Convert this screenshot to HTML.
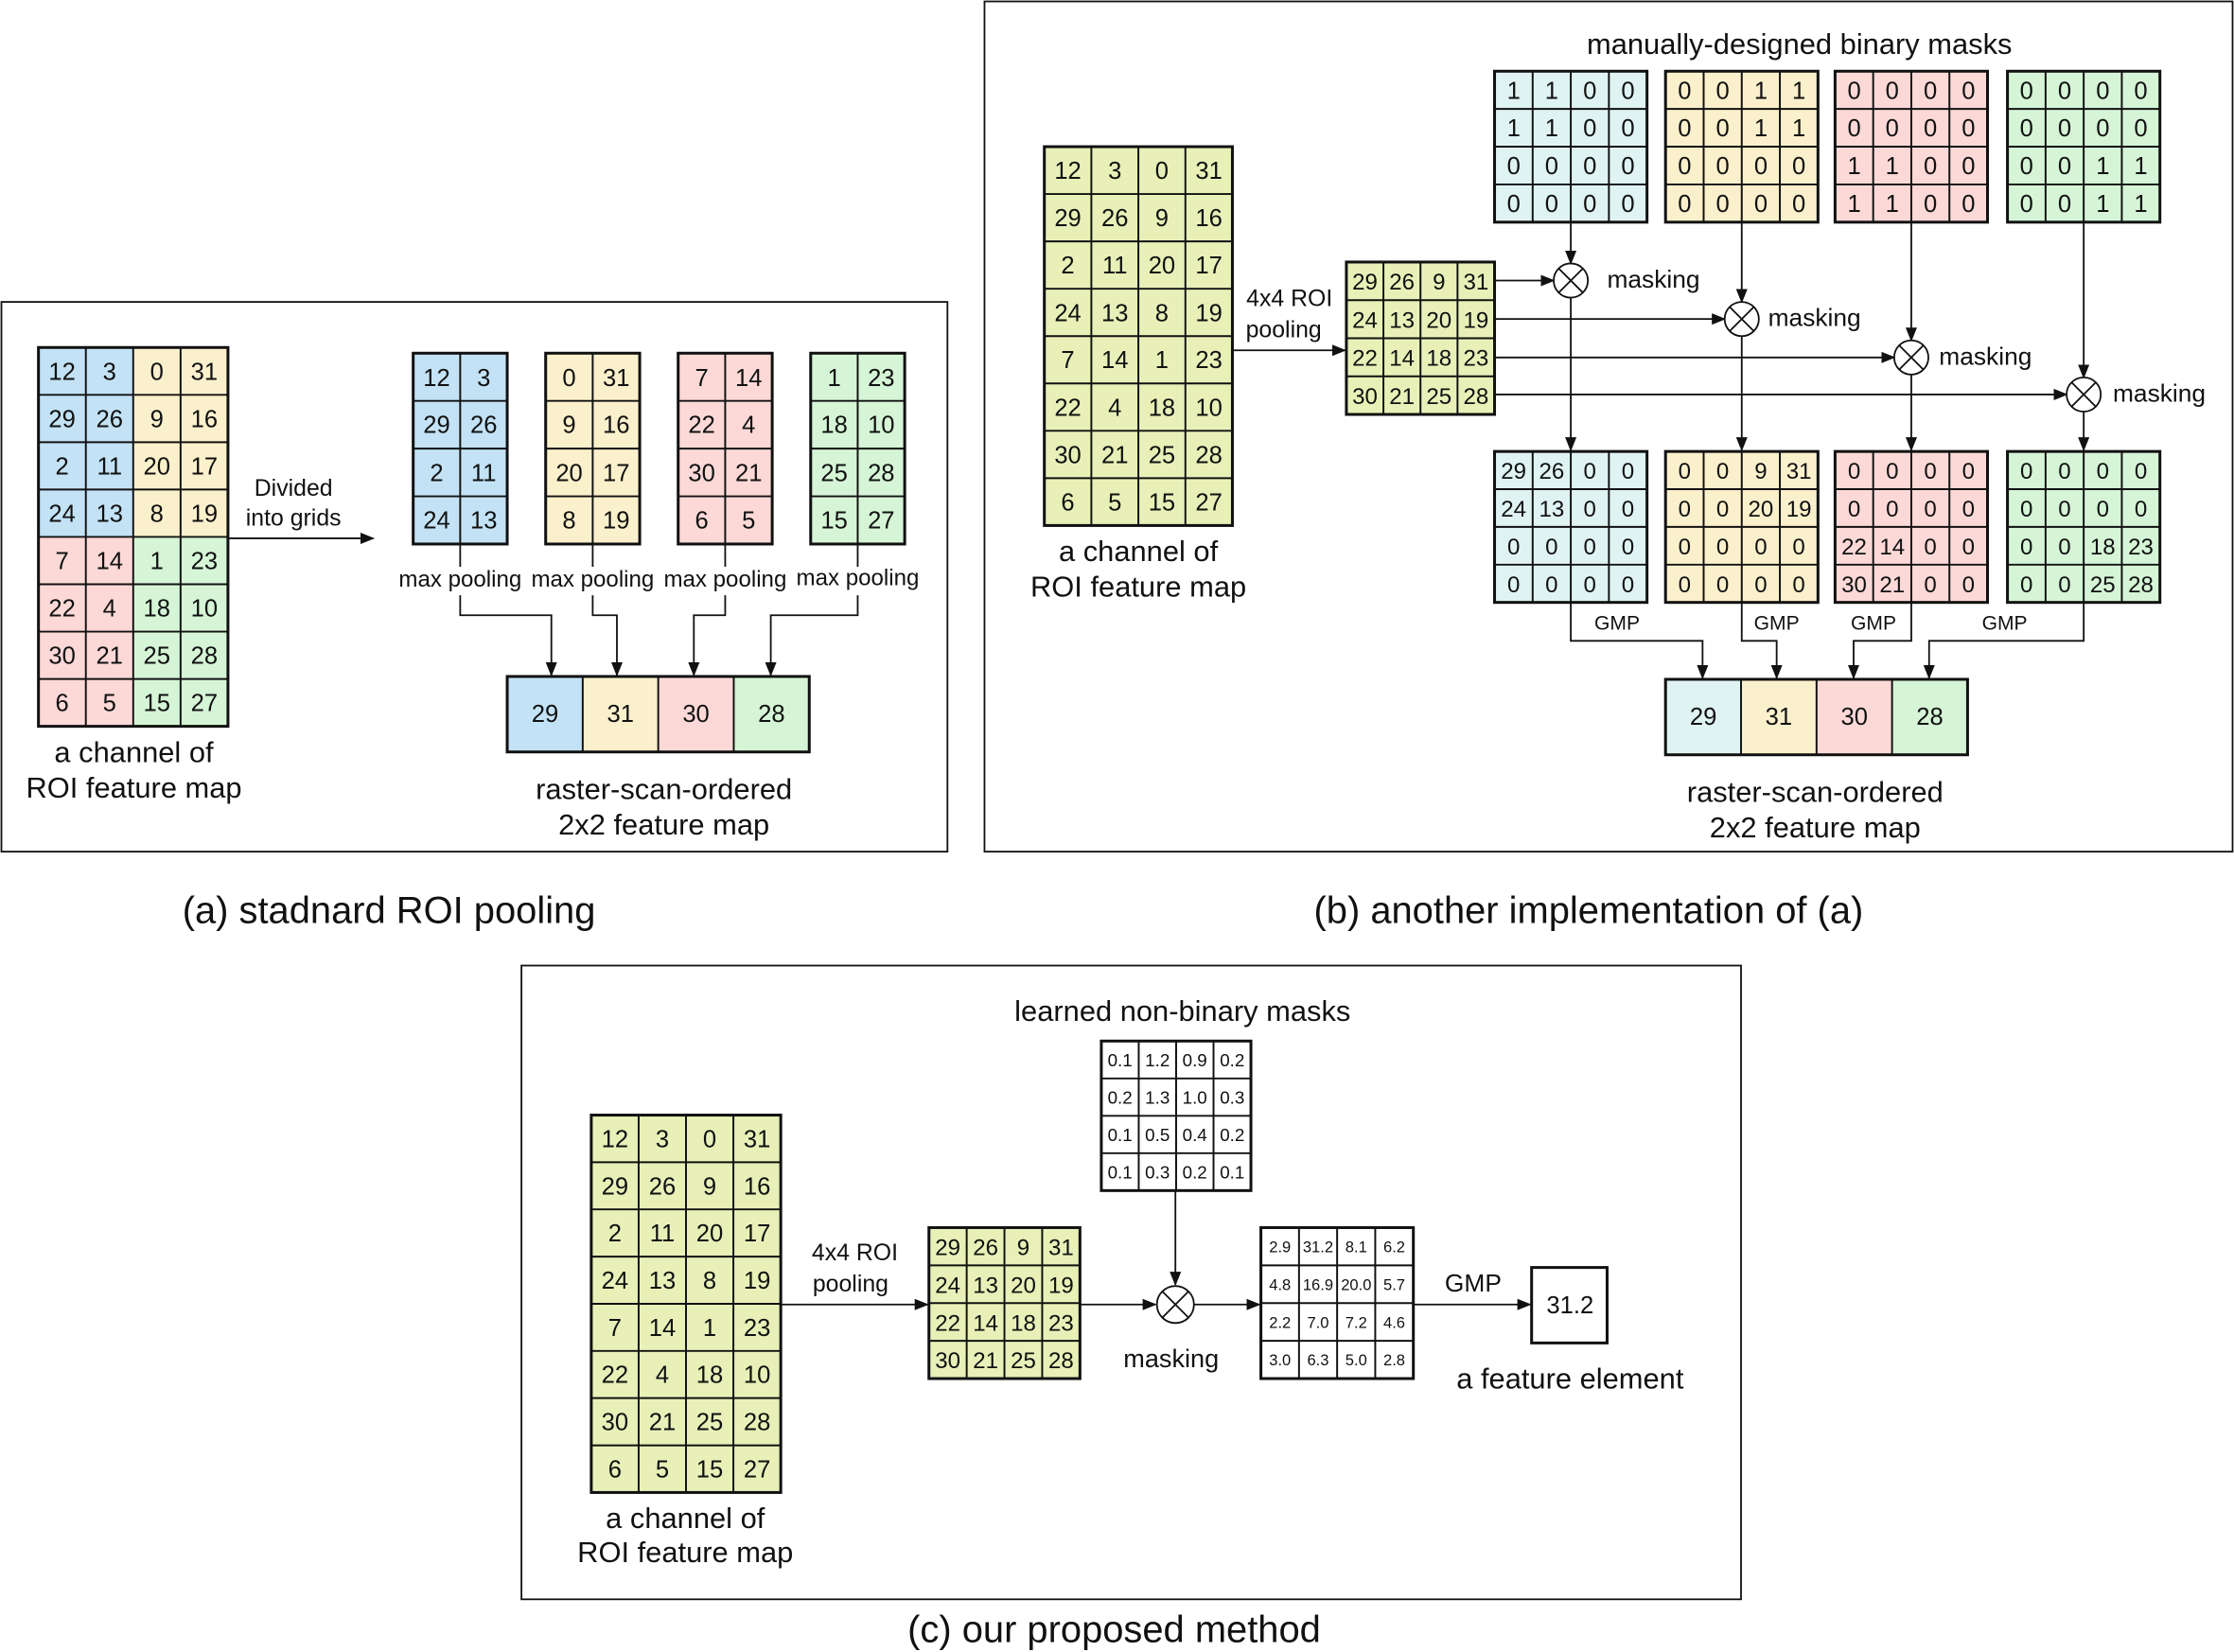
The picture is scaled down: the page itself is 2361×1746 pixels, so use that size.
<!DOCTYPE html>
<html><head><meta charset="utf-8"><style>
html,body{margin:0;padding:0;background:#fff}
svg{display:block}
text{font-family:"Liberation Sans",Arial,sans-serif;fill:#111}
.n{font-size:17px;text-anchor:middle}
.m{font-size:16px;text-anchor:middle}
.s{font-size:12.5px;text-anchor:middle}
.xs{font-size:11px;text-anchor:middle}
.l{font-size:20.5px;text-anchor:middle}
.t{font-size:16.5px;text-anchor:middle}
.cap{font-size:26.5px;text-anchor:middle}
.g{fill:none;stroke:#111;stroke-width:2}
.w{stroke:#111;stroke-width:1.3;fill:none}
.c{stroke:#111;stroke-width:1.2;fill:none}
</style></head><body>
<svg width="2361" height="1746" viewBox="0 0 1568 1160" preserveAspectRatio="none" xmlns="http://www.w3.org/2000/svg">
<defs><marker id="a" markerWidth="10" markerHeight="8" refX="9" refY="4" orient="auto" markerUnits="userSpaceOnUse"><path d="M0,0 L10,4 L0,8 z" fill="#111"/></marker></defs>

<!-- ===== Panel (a) ===== -->
<rect x="1" y="212" width="664" height="386" class="c"/>
<rect x="27" y="244" width="66.5" height="133" fill="#c3e2f5"/>
<rect x="93.5" y="244" width="66.5" height="133" fill="#fbf0cc"/>
<rect x="27" y="377" width="66.5" height="133" fill="#fcd9d7"/>
<rect x="93.5" y="377" width="66.5" height="133" fill="#d5f5d6"/>
<path class="w" d="M60.25 244V510M93.5 244V510M126.75 244V510M27 277.25H160M27 310.5H160M27 343.75H160M27 377H160M27 410.25H160M27 443.5H160M27 476.75H160"/>
<rect x="27" y="244" width="133" height="266" class="g"/>
<text class="n" y="266.6"><tspan x="43.6">12</tspan><tspan x="76.9">3</tspan><tspan x="110.1">0</tspan><tspan x="143.4">31</tspan></text>
<text class="n" y="299.9"><tspan x="43.6">29</tspan><tspan x="76.9">26</tspan><tspan x="110.1">9</tspan><tspan x="143.4">16</tspan></text>
<text class="n" y="333.1"><tspan x="43.6">2</tspan><tspan x="76.9">11</tspan><tspan x="110.1">20</tspan><tspan x="143.4">17</tspan></text>
<text class="n" y="366.4"><tspan x="43.6">24</tspan><tspan x="76.9">13</tspan><tspan x="110.1">8</tspan><tspan x="143.4">19</tspan></text>
<text class="n" y="399.6"><tspan x="43.6">7</tspan><tspan x="76.9">14</tspan><tspan x="110.1">1</tspan><tspan x="143.4">23</tspan></text>
<text class="n" y="432.9"><tspan x="43.6">22</tspan><tspan x="76.9">4</tspan><tspan x="110.1">18</tspan><tspan x="143.4">10</tspan></text>
<text class="n" y="466.1"><tspan x="43.6">30</tspan><tspan x="76.9">21</tspan><tspan x="110.1">25</tspan><tspan x="143.4">28</tspan></text>
<text class="n" y="499.4"><tspan x="43.6">6</tspan><tspan x="76.9">5</tspan><tspan x="110.1">15</tspan><tspan x="143.4">27</tspan></text>
<text class="l" x="94" y="535">a channel of</text>
<text class="l" x="94" y="560">ROI feature map</text>
<line x1="160" y1="378" x2="262" y2="378" class="c" stroke-width="1.6" marker-end="url(#a)"/>
<text class="t" x="206" y="348">Divided</text>
<text class="t" x="206" y="369">into grids</text>

<!-- small grids -->
<rect x="290" y="248" width="66" height="134" fill="#c3e2f5"/>
<rect x="383" y="248" width="66" height="134" fill="#fbf0cc"/>
<rect x="476" y="248" width="66" height="134" fill="#fcd9d7"/>
<rect x="569" y="248" width="66" height="134" fill="#d5f5d6"/>
<path class="w" d="M323 248V382M290 281.5H356M290 315H356M290 348.5H356M416 248V382M383 281.5H449M383 315H449M383 348.5H449M509 248V382M476 281.5H542M476 315H542M476 348.5H542M602 248V382M569 281.5H635M569 315H635M569 348.5H635"/>
<rect x="290" y="248" width="66" height="134" class="g"/>
<rect x="383" y="248" width="66" height="134" class="g"/>
<rect x="476" y="248" width="66" height="134" class="g"/>
<rect x="569" y="248" width="66" height="134" class="g"/>
<text class="n" y="271"><tspan x="306.5">12</tspan><tspan x="339.5">3</tspan><tspan x="399.5">0</tspan><tspan x="432.5">31</tspan><tspan x="492.5">7</tspan><tspan x="525.5">14</tspan><tspan x="585.5">1</tspan><tspan x="618.5">23</tspan></text>
<text class="n" y="304"><tspan x="306.5">29</tspan><tspan x="339.5">26</tspan><tspan x="399.5">9</tspan><tspan x="432.5">16</tspan><tspan x="492.5">22</tspan><tspan x="525.5">4</tspan><tspan x="585.5">18</tspan><tspan x="618.5">10</tspan></text>
<text class="n" y="338"><tspan x="306.5">2</tspan><tspan x="339.5">11</tspan><tspan x="399.5">20</tspan><tspan x="432.5">17</tspan><tspan x="492.5">30</tspan><tspan x="525.5">21</tspan><tspan x="585.5">25</tspan><tspan x="618.5">28</tspan></text>
<text class="n" y="371"><tspan x="306.5">24</tspan><tspan x="339.5">13</tspan><tspan x="399.5">8</tspan><tspan x="432.5">19</tspan><tspan x="492.5">6</tspan><tspan x="525.5">5</tspan><tspan x="585.5">15</tspan><tspan x="618.5">27</tspan></text>
<path class="c" d="M323 382V398M416 382V398M509 382V398M602 382V398"/>
<text class="t" x="323" y="412" style="font-size:16px">max pooling</text>
<text class="t" x="416" y="412" style="font-size:16px">max pooling</text>
<text class="t" x="509" y="412" style="font-size:16px">max pooling</text>
<text class="t" x="602" y="411" style="font-size:16px">max pooling</text>
<path class="c" d="M323 418V432H387V474" marker-end="url(#a)"/>
<path class="c" d="M416 418V432H433V474" marker-end="url(#a)"/>
<path class="c" d="M509 418V432H487V474" marker-end="url(#a)"/>
<path class="c" d="M602 418V432H541V474" marker-end="url(#a)"/>
<rect x="356" y="475" width="53" height="53" fill="#c3e2f5"/>
<rect x="409" y="475" width="53" height="53" fill="#fbf0cc"/>
<rect x="462" y="475" width="53" height="53" fill="#fcd9d7"/>
<rect x="515" y="475" width="53" height="53" fill="#d5f5d6"/>
<path class="w" d="M409 475V528M462 475V528M515 475V528"/>
<rect x="356" y="475" width="212" height="53" class="g"/>
<text class="n" y="507"><tspan x="382.5">29</tspan><tspan x="435.5">31</tspan><tspan x="488.5">30</tspan><tspan x="541.5">28</tspan></text>
<text class="l" x="466" y="561">raster-scan-ordered</text>
<text class="l" x="466" y="586">2x2 feature map</text>
<text class="cap" x="273" y="648">(a) stadnard ROI pooling</text>

<!-- ===== Panel (b) ===== -->
<rect x="691" y="1" width="876" height="597" class="c"/>
<rect x="733" y="103" width="132" height="266" fill="#e8f0b8"/>
<path class="w" d="M766 103V369M799 103V369M832 103V369M733 136.25H865M733 169.5H865M733 202.75H865M733 236H865M733 269.25H865M733 302.5H865M733 335.75H865"/>
<rect x="733" y="103" width="132" height="266" class="g"/>
<text class="n" y="125.6"><tspan x="749.5">12</tspan><tspan x="782.5">3</tspan><tspan x="815.5">0</tspan><tspan x="848.5">31</tspan></text>
<text class="n" y="158.9"><tspan x="749.5">29</tspan><tspan x="782.5">26</tspan><tspan x="815.5">9</tspan><tspan x="848.5">16</tspan></text>
<text class="n" y="192.1"><tspan x="749.5">2</tspan><tspan x="782.5">11</tspan><tspan x="815.5">20</tspan><tspan x="848.5">17</tspan></text>
<text class="n" y="225.4"><tspan x="749.5">24</tspan><tspan x="782.5">13</tspan><tspan x="815.5">8</tspan><tspan x="848.5">19</tspan></text>
<text class="n" y="258.6"><tspan x="749.5">7</tspan><tspan x="782.5">14</tspan><tspan x="815.5">1</tspan><tspan x="848.5">23</tspan></text>
<text class="n" y="291.9"><tspan x="749.5">22</tspan><tspan x="782.5">4</tspan><tspan x="815.5">18</tspan><tspan x="848.5">10</tspan></text>
<text class="n" y="325.1"><tspan x="749.5">30</tspan><tspan x="782.5">21</tspan><tspan x="815.5">25</tspan><tspan x="848.5">28</tspan></text>
<text class="n" y="358.4"><tspan x="749.5">6</tspan><tspan x="782.5">5</tspan><tspan x="815.5">15</tspan><tspan x="848.5">27</tspan></text>
<text class="l" x="799" y="394">a channel of</text>
<text class="l" x="799" y="419">ROI feature map</text>
<line x1="865" y1="246" x2="944" y2="246" class="c" stroke-width="1.6" marker-end="url(#a)"/>
<text class="t" x="905" y="215">4x4 ROI</text>
<text class="t" x="901" y="237">pooling</text>

<rect x="945" y="184" width="104" height="107" fill="#e8f0b8"/>
<path class="w" d="M971 184V291M997 184V291M1023 184V291M945 210.75H1049M945 237.5H1049M945 264.25H1049"/>
<rect x="945" y="184" width="104" height="107" class="g"/>
<text class="m" y="203.4"><tspan x="958">29</tspan><tspan x="984">26</tspan><tspan x="1010">9</tspan><tspan x="1036">31</tspan></text>
<text class="m" y="230.1"><tspan x="958">24</tspan><tspan x="984">13</tspan><tspan x="1010">20</tspan><tspan x="1036">19</tspan></text>
<text class="m" y="256.9"><tspan x="958">22</tspan><tspan x="984">14</tspan><tspan x="1010">18</tspan><tspan x="1036">23</tspan></text>
<text class="m" y="283.6"><tspan x="958">30</tspan><tspan x="984">21</tspan><tspan x="1010">25</tspan><tspan x="1036">28</tspan></text>

<text class="l" x="1263" y="38">manually-designed binary masks</text>

<rect x="1049" y="50" width="107" height="106" fill="#dff3f3"/>
<rect x="1169" y="50" width="107" height="106" fill="#fbf0cc"/>
<rect x="1288" y="50" width="107" height="106" fill="#fcd9d7"/>
<rect x="1409" y="50" width="107" height="106" fill="#d5f5d6"/>
<rect x="1049" y="317" width="107" height="106" fill="#dff3f3"/>
<rect x="1169" y="317" width="107" height="106" fill="#fbf0cc"/>
<rect x="1288" y="317" width="107" height="106" fill="#fcd9d7"/>
<rect x="1409" y="317" width="107" height="106" fill="#d5f5d6"/>
<path class="w" d="M1075.75 50V156M1102.5 50V156M1129.25 50V156M1049 76.5H1156M1049 103H1156M1049 129.5H1156
M1195.75 50V156M1222.5 50V156M1249.25 50V156M1169 76.5H1276M1169 103H1276M1169 129.5H1276
M1314.75 50V156M1341.5 50V156M1368.25 50V156M1288 76.5H1395M1288 103H1395M1288 129.5H1395
M1435.75 50V156M1462.5 50V156M1489.25 50V156M1409 76.5H1516M1409 103H1516M1409 129.5H1516
M1075.75 317V423M1102.5 317V423M1129.25 317V423M1049 343.5H1156M1049 370H1156M1049 396.5H1156
M1195.75 317V423M1222.5 317V423M1249.25 317V423M1169 343.5H1276M1169 370H1276M1169 396.5H1276
M1314.75 317V423M1341.5 317V423M1368.25 317V423M1288 343.5H1395M1288 370H1395M1288 396.5H1395
M1435.75 317V423M1462.5 317V423M1489.25 317V423M1409 343.5H1516M1409 370H1516M1409 396.5H1516"/>
<rect x="1049" y="50" width="107" height="106" class="g"/>
<rect x="1169" y="50" width="107" height="106" class="g"/>
<rect x="1288" y="50" width="107" height="106" class="g"/>
<rect x="1409" y="50" width="107" height="106" class="g"/>
<rect x="1049" y="317" width="107" height="106" class="g"/>
<rect x="1169" y="317" width="107" height="106" class="g"/>
<rect x="1288" y="317" width="107" height="106" class="g"/>
<rect x="1409" y="317" width="107" height="106" class="g"/>

<text class="n" y="69.3"><tspan x="1062.4">1</tspan><tspan x="1089.1">1</tspan><tspan x="1115.9">0</tspan><tspan x="1142.6">0</tspan><tspan x="1182.4">0</tspan><tspan x="1209.1">0</tspan><tspan x="1235.9">1</tspan><tspan x="1262.6">1</tspan><tspan x="1301.4">0</tspan><tspan x="1328.1">0</tspan><tspan x="1354.9">0</tspan><tspan x="1381.6">0</tspan><tspan x="1422.4">0</tspan><tspan x="1449.1">0</tspan><tspan x="1475.9">0</tspan><tspan x="1502.6">0</tspan></text>
<text class="n" y="95.8"><tspan x="1062.4">1</tspan><tspan x="1089.1">1</tspan><tspan x="1115.9">0</tspan><tspan x="1142.6">0</tspan><tspan x="1182.4">0</tspan><tspan x="1209.1">0</tspan><tspan x="1235.9">1</tspan><tspan x="1262.6">1</tspan><tspan x="1301.4">0</tspan><tspan x="1328.1">0</tspan><tspan x="1354.9">0</tspan><tspan x="1381.6">0</tspan><tspan x="1422.4">0</tspan><tspan x="1449.1">0</tspan><tspan x="1475.9">0</tspan><tspan x="1502.6">0</tspan></text>
<text class="n" y="122.3"><tspan x="1062.4">0</tspan><tspan x="1089.1">0</tspan><tspan x="1115.9">0</tspan><tspan x="1142.6">0</tspan><tspan x="1182.4">0</tspan><tspan x="1209.1">0</tspan><tspan x="1235.9">0</tspan><tspan x="1262.6">0</tspan><tspan x="1301.4">1</tspan><tspan x="1328.1">1</tspan><tspan x="1354.9">0</tspan><tspan x="1381.6">0</tspan><tspan x="1422.4">0</tspan><tspan x="1449.1">0</tspan><tspan x="1475.9">1</tspan><tspan x="1502.6">1</tspan></text>
<text class="n" y="148.8"><tspan x="1062.4">0</tspan><tspan x="1089.1">0</tspan><tspan x="1115.9">0</tspan><tspan x="1142.6">0</tspan><tspan x="1182.4">0</tspan><tspan x="1209.1">0</tspan><tspan x="1235.9">0</tspan><tspan x="1262.6">0</tspan><tspan x="1301.4">1</tspan><tspan x="1328.1">1</tspan><tspan x="1354.9">0</tspan><tspan x="1381.6">0</tspan><tspan x="1422.4">0</tspan><tspan x="1449.1">0</tspan><tspan x="1475.9">1</tspan><tspan x="1502.6">1</tspan></text>

<text class="m" y="336.3"><tspan x="1062.4">29</tspan><tspan x="1089.1">26</tspan><tspan x="1115.9">0</tspan><tspan x="1142.6">0</tspan><tspan x="1182.4">0</tspan><tspan x="1209.1">0</tspan><tspan x="1235.9">9</tspan><tspan x="1262.6">31</tspan><tspan x="1301.4">0</tspan><tspan x="1328.1">0</tspan><tspan x="1354.9">0</tspan><tspan x="1381.6">0</tspan><tspan x="1422.4">0</tspan><tspan x="1449.1">0</tspan><tspan x="1475.9">0</tspan><tspan x="1502.6">0</tspan></text>
<text class="m" y="362.8"><tspan x="1062.4">24</tspan><tspan x="1089.1">13</tspan><tspan x="1115.9">0</tspan><tspan x="1142.6">0</tspan><tspan x="1182.4">0</tspan><tspan x="1209.1">0</tspan><tspan x="1235.9">20</tspan><tspan x="1262.6">19</tspan><tspan x="1301.4">0</tspan><tspan x="1328.1">0</tspan><tspan x="1354.9">0</tspan><tspan x="1381.6">0</tspan><tspan x="1422.4">0</tspan><tspan x="1449.1">0</tspan><tspan x="1475.9">0</tspan><tspan x="1502.6">0</tspan></text>
<text class="m" y="389.3"><tspan x="1062.4">0</tspan><tspan x="1089.1">0</tspan><tspan x="1115.9">0</tspan><tspan x="1142.6">0</tspan><tspan x="1182.4">0</tspan><tspan x="1209.1">0</tspan><tspan x="1235.9">0</tspan><tspan x="1262.6">0</tspan><tspan x="1301.4">22</tspan><tspan x="1328.1">14</tspan><tspan x="1354.9">0</tspan><tspan x="1381.6">0</tspan><tspan x="1422.4">0</tspan><tspan x="1449.1">0</tspan><tspan x="1475.9">18</tspan><tspan x="1502.6">23</tspan></text>
<text class="m" y="415.8"><tspan x="1062.4">0</tspan><tspan x="1089.1">0</tspan><tspan x="1115.9">0</tspan><tspan x="1142.6">0</tspan><tspan x="1182.4">0</tspan><tspan x="1209.1">0</tspan><tspan x="1235.9">0</tspan><tspan x="1262.6">0</tspan><tspan x="1301.4">30</tspan><tspan x="1328.1">21</tspan><tspan x="1354.9">0</tspan><tspan x="1381.6">0</tspan><tspan x="1422.4">0</tspan><tspan x="1449.1">0</tspan><tspan x="1475.9">25</tspan><tspan x="1502.6">28</tspan></text>

<line x1="1102.5" y1="156" x2="1102.5" y2="185" class="c" marker-end="url(#a)"/>
<line x1="1222.5" y1="156" x2="1222.5" y2="212" class="c" marker-end="url(#a)"/>
<line x1="1341.5" y1="156" x2="1341.5" y2="239" class="c" marker-end="url(#a)"/>
<line x1="1462.5" y1="156" x2="1462.5" y2="265" class="c" marker-end="url(#a)"/>
<line x1="1049" y1="197" x2="1090.5" y2="197" class="c" stroke-width="1.6" marker-end="url(#a)"/>
<line x1="1049" y1="224" x2="1210.5" y2="224" class="c" stroke-width="1.6" marker-end="url(#a)"/>
<line x1="1049" y1="251" x2="1329.5" y2="251" class="c" stroke-width="1.6" marker-end="url(#a)"/>
<line x1="1049" y1="277" x2="1450.5" y2="277" class="c" stroke-width="1.6" marker-end="url(#a)"/>
<line x1="1102.5" y1="209" x2="1102.5" y2="316" class="c" marker-end="url(#a)"/>
<line x1="1222.5" y1="236" x2="1222.5" y2="316" class="c" marker-end="url(#a)"/>
<line x1="1341.5" y1="263" x2="1341.5" y2="316" class="c" marker-end="url(#a)"/>
<line x1="1462.5" y1="289" x2="1462.5" y2="316" class="c" marker-end="url(#a)"/>
<g class="c" stroke-width="1.6" fill="#fff">
<circle cx="1102.5" cy="197" r="12" fill="#fff"/><path d="M1094 188.5L1111 205.5M1111 188.5L1094 205.5"/>
<circle cx="1222.5" cy="224" r="12" fill="#fff"/><path d="M1214 215.5L1231 232.5M1231 215.5L1214 232.5"/>
<circle cx="1341.5" cy="251" r="12" fill="#fff"/><path d="M1333 242.5L1350 259.5M1350 242.5L1333 259.5"/>
<circle cx="1462.5" cy="277" r="12" fill="#fff"/><path d="M1454 268.5L1471 285.5M1471 268.5L1454 285.5"/>
</g>
<text x="1128" y="202" style="font-size:17.5px">masking</text>
<text x="1241" y="229" style="font-size:17.5px">masking</text>
<text x="1361" y="256" style="font-size:17.5px">masking</text>
<text x="1483" y="282" style="font-size:17.5px">masking</text>

<path class="c" d="M1102.5 423V450H1195V476" marker-end="url(#a)"/>
<path class="c" d="M1222.5 423V450H1247V476" marker-end="url(#a)"/>
<path class="c" d="M1341.5 423V450H1301V476" marker-end="url(#a)"/>
<path class="c" d="M1462.5 423V450H1354V476" marker-end="url(#a)"/>
<text class="t" x="1135" y="442" style="font-size:14px">GMP</text>
<text class="t" x="1247" y="442" style="font-size:14px">GMP</text>
<text class="t" x="1315" y="442" style="font-size:14px">GMP</text>
<text class="t" x="1407" y="442" style="font-size:14px">GMP</text>
<rect x="1169" y="477" width="53" height="53" fill="#dff3f3"/>
<rect x="1222" y="477" width="53" height="53" fill="#fbf0cc"/>
<rect x="1275" y="477" width="53" height="53" fill="#fcd9d7"/>
<rect x="1328" y="477" width="53" height="53" fill="#d5f5d6"/>
<path class="w" d="M1222 477V530M1275 477V530M1328 477V530"/>
<rect x="1169" y="477" width="212" height="53" class="g"/>
<text class="n" y="509"><tspan x="1195.5">29</tspan><tspan x="1248.5">31</tspan><tspan x="1301.5">30</tspan><tspan x="1354.5">28</tspan></text>
<text class="l" x="1274" y="563">raster-scan-ordered</text>
<text class="l" x="1274" y="588">2x2 feature map</text>
<text class="cap" x="1115" y="648">(b) another implementation of (a)</text>

<!-- ===== Panel (c) ===== -->
<rect x="366" y="678" width="856" height="445" class="c"/>
<rect x="415" y="783" width="133" height="265" fill="#e8f0b8"/>
<path class="w" d="M448.25 783V1048M481.5 783V1048M514.75 783V1048M415 816.1H548M415 849.2H548M415 882.4H548M415 915.5H548M415 948.6H548M415 981.7H548M415 1014.9H548"/>
<rect x="415" y="783" width="133" height="265" class="g"/>
<text class="n" y="805.6"><tspan x="431.6">12</tspan><tspan x="464.9">3</tspan><tspan x="498.1">0</tspan><tspan x="531.4">31</tspan></text>
<text class="n" y="838.7"><tspan x="431.6">29</tspan><tspan x="464.9">26</tspan><tspan x="498.1">9</tspan><tspan x="531.4">16</tspan></text>
<text class="n" y="871.8"><tspan x="431.6">2</tspan><tspan x="464.9">11</tspan><tspan x="498.1">20</tspan><tspan x="531.4">17</tspan></text>
<text class="n" y="904.9"><tspan x="431.6">24</tspan><tspan x="464.9">13</tspan><tspan x="498.1">8</tspan><tspan x="531.4">19</tspan></text>
<text class="n" y="938"><tspan x="431.6">7</tspan><tspan x="464.9">14</tspan><tspan x="498.1">1</tspan><tspan x="531.4">23</tspan></text>
<text class="n" y="971.1"><tspan x="431.6">22</tspan><tspan x="464.9">4</tspan><tspan x="498.1">18</tspan><tspan x="531.4">10</tspan></text>
<text class="n" y="1004.2"><tspan x="431.6">30</tspan><tspan x="464.9">21</tspan><tspan x="498.1">25</tspan><tspan x="531.4">28</tspan></text>
<text class="n" y="1037.3"><tspan x="431.6">6</tspan><tspan x="464.9">5</tspan><tspan x="498.1">15</tspan><tspan x="531.4">27</tspan></text>
<text class="l" x="481" y="1073">a channel of</text>
<text class="l" x="481" y="1097">ROI feature map</text>
<line x1="548" y1="916" x2="651" y2="916" class="c" stroke-width="1.6" marker-end="url(#a)"/>
<text class="t" x="600" y="885">4x4 ROI</text>
<text class="t" x="597" y="907">pooling</text>

<rect x="652" y="862" width="106" height="106" fill="#e8f0b8"/>
<path class="w" d="M678.5 862V968M705 862V968M731.5 862V968M652 888.5H758M652 915H758M652 941.5H758"/>
<rect x="652" y="862" width="106" height="106" class="g"/>
<text class="m" y="881.3"><tspan x="665.25">29</tspan><tspan x="691.75">26</tspan><tspan x="718.25">9</tspan><tspan x="744.75">31</tspan></text>
<text class="m" y="907.8"><tspan x="665.25">24</tspan><tspan x="691.75">13</tspan><tspan x="718.25">20</tspan><tspan x="744.75">19</tspan></text>
<text class="m" y="934.3"><tspan x="665.25">22</tspan><tspan x="691.75">14</tspan><tspan x="718.25">18</tspan><tspan x="744.75">23</tspan></text>
<text class="m" y="960.8"><tspan x="665.25">30</tspan><tspan x="691.75">21</tspan><tspan x="718.25">25</tspan><tspan x="744.75">28</tspan></text>

<text class="l" x="830" y="717">learned non-binary masks</text>
<path class="w" d="M799.25 731V836M825.5 731V836M851.75 731V836M773 757.25H878M773 783.5H878M773 809.75H878"/>
<rect x="773" y="731" width="105" height="105" class="g" stroke-width="1.6"/>
<text class="s" y="748.6"><tspan x="786.1">0.1</tspan><tspan x="812.4">1.2</tspan><tspan x="838.6">0.9</tspan><tspan x="864.9">0.2</tspan></text>
<text class="s" y="774.9"><tspan x="786.1">0.2</tspan><tspan x="812.4">1.3</tspan><tspan x="838.6">1.0</tspan><tspan x="864.9">0.3</tspan></text>
<text class="s" y="801.1"><tspan x="786.1">0.1</tspan><tspan x="812.4">0.5</tspan><tspan x="838.6">0.4</tspan><tspan x="864.9">0.2</tspan></text>
<text class="s" y="827.4"><tspan x="786.1">0.1</tspan><tspan x="812.4">0.3</tspan><tspan x="838.6">0.2</tspan><tspan x="864.9">0.1</tspan></text>

<line x1="825" y1="836" x2="825" y2="902" class="c" marker-end="url(#a)"/>
<line x1="758" y1="916" x2="811" y2="916" class="c" stroke-width="1.6" marker-end="url(#a)"/>
<line x1="838" y1="916" x2="884" y2="916" class="c" stroke-width="1.6" marker-end="url(#a)"/>
<circle cx="825" cy="916" r="13" class="c" stroke-width="1.6" fill="#fff"/>
<path class="c" stroke-width="1.6" d="M815.8 906.8L834.2 925.2M834.2 906.8L815.8 925.2"/>
<text class="l" x="822" y="960" style="font-size:18px">masking</text>

<path class="w" d="M911.75 862V968M938.5 862V968M965.25 862V968M885 888.5H992M885 915H992M885 941.5H992"/>
<rect x="885" y="862" width="107" height="106" class="g" stroke-width="1.6"/>
<text class="xs" y="879.3"><tspan x="898.4">2.9</tspan><tspan x="925.1">31.2</tspan><tspan x="951.9">8.1</tspan><tspan x="978.6">6.2</tspan></text>
<text class="xs" y="905.8"><tspan x="898.4">4.8</tspan><tspan x="925.1">16.9</tspan><tspan x="951.9">20.0</tspan><tspan x="978.6">5.7</tspan></text>
<text class="xs" y="932.3"><tspan x="898.4">2.2</tspan><tspan x="925.1">7.0</tspan><tspan x="951.9">7.2</tspan><tspan x="978.6">4.6</tspan></text>
<text class="xs" y="958.8"><tspan x="898.4">3.0</tspan><tspan x="925.1">6.3</tspan><tspan x="951.9">5.0</tspan><tspan x="978.6">2.8</tspan></text>

<line x1="992" y1="916" x2="1074" y2="916" class="c" stroke-width="1.6" marker-end="url(#a)"/>
<text class="t" x="1034" y="907" style="font-size:17.5px">GMP</text>
<rect x="1075" y="890" width="53" height="53" class="g" stroke-width="1.6"/>
<text class="n" x="1102" y="922">31.2</text>
<text class="l" x="1102" y="975">a feature element</text>
<text class="cap" x="782" y="1153">(c) our proposed method</text>
</svg>
</body></html>
